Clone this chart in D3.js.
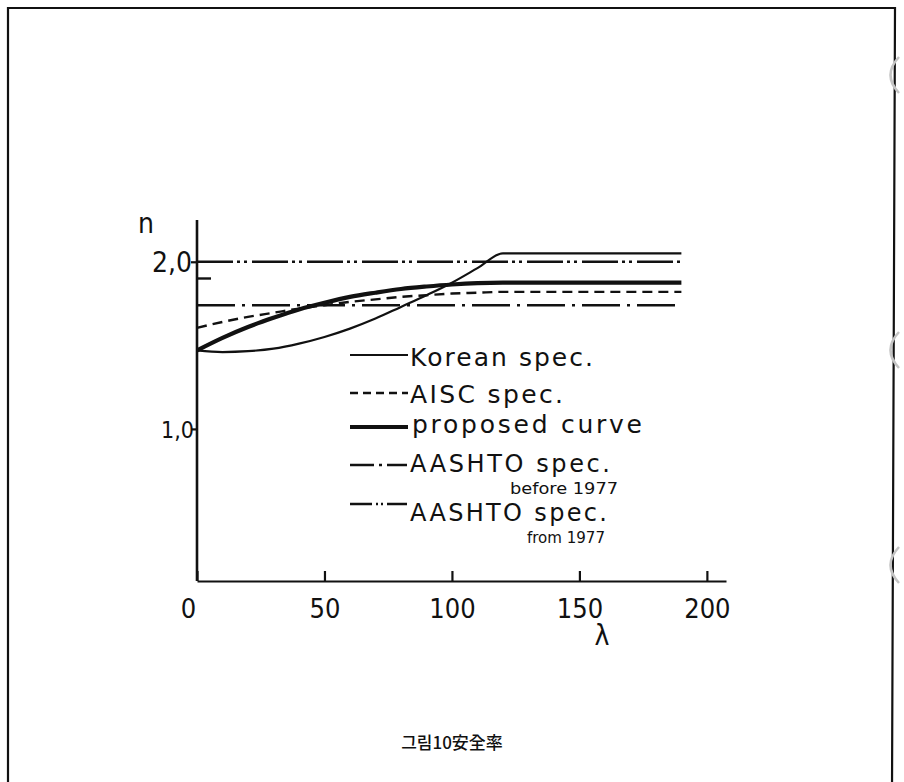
<!DOCTYPE html>
<html>
<head>
<meta charset="utf-8">
<script src="https://cdn.jsdelivr.net/npm/d3@7/dist/d3.min.js"></script>
<style>
  html, body { margin: 0; padding: 0; background: #fff; }
  svg { display: block; }
  .lbl { font-family: "DejaVu Sans Condensed", "Liberation Sans Narrow", "DejaVu Sans", sans-serif; fill: #111; }
  .leg { font-family: "DejaVu Sans", sans-serif; fill: #111; }
</style>
</head>
<body>
<svg id="chart" width="904" height="782"></svg>
<script>
// slenderness ratio λ and safety factor n for each specification
const lambdaPts   = [0, 10, 20, 30, 40, 50, 60, 70, 80, 90, 100, 110, 120, 190];
const koreanSpec  = [1.47, 1.46, 1.465, 1.48, 1.51, 1.55, 1.60, 1.66, 1.73, 1.80, 1.875, 1.962, 2.05, 2.05];
const aiscSpec    = [1.605, 1.64, 1.67, 1.695, 1.72, 1.74, 1.76, 1.775, 1.79, 1.80, 1.81, 1.815, 1.82, 1.82];
const proposed    = [1.47, 1.545, 1.61, 1.665, 1.715, 1.755, 1.79, 1.815, 1.837, 1.852, 1.864, 1.872, 1.875, 1.875];
const aashtoBefore = [1.74, 1.74];   // before 1977, constant
const aashtoFrom   = [2.0, 2.0];     // from 1977, constant
const constRange   = [0, 190];

const xTicks = [0, 50, 100, 150, 200];
const yTicks = [1.0, 2.0];
const yTickLabels = ["1,0", "2,0"];
const yMinorTicks = [1.9];

const legendItems = [
  { name: "Korean spec.", sub: "" },
  { name: "AISC spec.", sub: "" },
  { name: "proposed curve", sub: "" },
  { name: "AASHTO spec.", sub: "before 1977" },
  { name: "AASHTO spec.", sub: "from 1977" }
];
const caption = "그림10安全率";

const svg = d3.select("#chart");

// page frame
svg.append("path")
  .attr("d", "M8,790 L8,8 L895,8 L892,790")
  .attr("fill", "none").attr("stroke", "#111").attr("stroke-width", 2.2);

// faint binding marks along the right edge
[75, 350, 565].forEach(cy => {
  svg.append("path")
    .attr("d", `M899,${cy - 18} Q882,${cy} 899,${cy + 18}`)
    .attr("fill", "none").attr("stroke", "#c4c4c4").attr("stroke-width", 2.5);
});

const x = d3.scaleLinear().domain([0, 207.5]).range([197, 726]);
const y = d3.scaleLinear().domain([0.09, 2.25]).range([581, 220]);

// axes
const xAxis = d3.axisBottom(x).tickValues(xTicks).tickSize(-10).tickSizeOuter(0).tickFormat(d3.format("d"));
const gx = svg.append("g").attr("transform", `translate(0,${y(0.09)})`).call(xAxis);
gx.select(".domain").attr("stroke", "#111").attr("stroke-width", 2.2);
gx.selectAll(".tick line").attr("stroke", "#111").attr("stroke-width", 2.2);
gx.selectAll(".tick text")
  .attr("class", "lbl").attr("font-size", 27).attr("dy", null).attr("y", 37)
  .attr("dx", d => d === 0 ? -9 : 0);

const gy = svg.append("g").attr("transform", `translate(${x(0)},0)`);
gy.append("line").attr("x1", 0).attr("x2", 0).attr("y1", y(0.09)).attr("y2", 220)
  .attr("stroke", "#111").attr("stroke-width", 2.6);
const yAxis = d3.axisLeft(y).tickValues(yTicks).tickSize(6).tickSizeOuter(0)
  .tickFormat((d, i) => yTickLabels[i]);
gy.call(yAxis);
gy.select(".domain").remove();
gy.selectAll(".tick line").attr("stroke", "#111").attr("stroke-width", 2.2);
gy.selectAll(".tick text").attr("class", "lbl").attr("font-size", d => d === 2 ? 28 : 23)
  .attr("x", d => d === 2 ? -5 : -3).attr("dy", "0.36em");
gy.selectAll(".minor").data(yMinorTicks).join("line")
  .attr("x1", 0).attr("x2", 14).attr("y1", d => y(d)).attr("y2", d => y(d))
  .attr("stroke", "#111").attr("stroke-width", 2.4);

// axis titles
svg.append("text").attr("class", "lbl").attr("x", 138).attr("y", 233).attr("font-size", 28).text("n");
svg.append("text").attr("class", "lbl").attr("x", 602).attr("y", 645).attr("font-size", 28)
  .attr("text-anchor", "middle").text("λ");

// curves
const line = d3.line().x(d => x(d[0])).y(d => y(d[1])).curve(d3.curveMonotoneX);
const zipSeries = (xs, ys) => xs.map((v, i) => [v, ys[i]]);

const styles = [
  { data: zipSeries(constRange, aashtoFrom), w: 2.6, dash: "36,4,3,4,3,5" },
  { data: zipSeries(constRange, aashtoBefore), w: 2.6, dash: "38,7,3,7" },
  { data: zipSeries(lambdaPts, aiscSpec), w: 2.4, dash: "10,6" },
  { data: zipSeries(lambdaPts, koreanSpec), w: 2.2, dash: null },
  { data: zipSeries(lambdaPts, proposed), w: 4.2, dash: null }
];
styles.forEach(s => {
  svg.append("path").datum(s.data).attr("d", line)
    .attr("fill", "none").attr("stroke", "#111").attr("stroke-width", s.w)
    .attr("stroke-dasharray", s.dash);
});

// legend
const legendLines = [
  { y: 355, w: 2, dash: null },
  { y: 393, w: 2.4, dash: "8,5" },
  { y: 427, w: 4.2, dash: null },
  { y: 465, w: 2.4, dash: "24,5,3,5,20" },
  { y: 504, w: 2.4, dash: "22,4,2,3,2,4,20" }
];
const legendText = [
  { x: 410, y: 366, len: 183, size: 25 },
  { x: 410, y: 403, len: 153, size: 25 },
  { x: 412, y: 433, len: 230, size: 25 },
  { x: 410, y: 472, len: 200, size: 24 },
  { x: 410, y: 521, len: 197, size: 24 }
];
const subText = [null, null, null, { x: 510, y: 494, len: 108 }, { x: 527, y: 543, len: 78 }];

legendItems.forEach((item, i) => {
  const L = legendLines[i], T = legendText[i];
  svg.append("line").attr("x1", 350).attr("x2", 408).attr("y1", L.y).attr("y2", L.y)
    .attr("stroke", "#111").attr("stroke-width", L.w).attr("stroke-dasharray", L.dash);
  svg.append("text").attr("class", "leg").attr("x", T.x).attr("y", T.y)
    .attr("font-size", T.size).attr("textLength", T.len).attr("lengthAdjust", "spacing")
    .text(item.name);
  if (item.sub) {
    const S = subText[i];
    svg.append("text").attr("class", "lbl").attr("x", S.x).attr("y", S.y)
      .attr("font-size", 16).attr("textLength", S.len).attr("lengthAdjust", "spacingAndGlyphs")
      .text(item.sub);
  }
});

// caption
svg.append("text").attr("x", 452).attr("y", 749).attr("text-anchor", "middle")
  .attr("font-family", "'Noto Sans CJK KR', sans-serif").attr("font-size", 17)
  .attr("font-weight", 500).attr("fill", "#111").text(caption);
</script>
</body>
</html>
